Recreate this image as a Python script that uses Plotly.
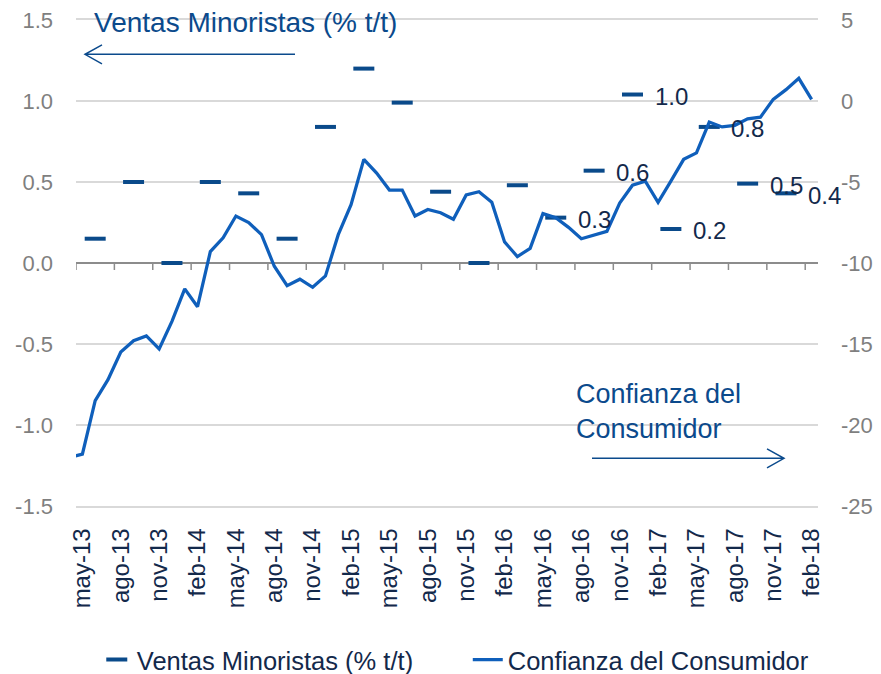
import plotly.graph_objects as go

# Monthly categories (first one, abr-13, lies just left of the plotted window)
months = ["abr-13", "may-13", "jun-13", "jul-13", "ago-13", "sep-13", "oct-13", "nov-13", "dic-13",
          "ene-14", "feb-14", "mar-14", "abr-14", "may-14", "jun-14", "jul-14", "ago-14", "sep-14",
          "oct-14", "nov-14", "dic-14", "ene-15", "feb-15", "mar-15", "abr-15", "may-15", "jun-15",
          "jul-15", "ago-15", "sep-15", "oct-15", "nov-15", "dic-15", "ene-16", "feb-16", "mar-16",
          "abr-16", "may-16", "jun-16", "jul-16", "ago-16", "sep-16", "oct-16", "nov-16", "dic-16",
          "ene-17", "feb-17", "mar-17", "abr-17", "may-17", "jun-17", "jul-17", "ago-17", "sep-17",
          "oct-17", "nov-17", "dic-17", "ene-18", "feb-18"]

confianza = [-22.0, -21.8, -18.5, -17.2, -15.5, -14.8, -14.5, -15.3, -13.6, -11.6, -12.7,
             -9.3, -8.45, -7.1, -7.5, -8.25, -10.2, -11.4, -11.0, -11.5, -10.8,
             -8.25, -6.4, -3.6, -4.45, -5.5, -5.5, -7.1, -6.7, -6.9, -7.3,
             -5.8, -5.6, -6.25, -8.7, -9.6, -9.1, -6.95, -7.2, -7.8, -8.5,
             -8.25, -8.05, -6.3, -5.2, -4.95, -6.25, -4.95, -3.6, -3.2, -1.3,
             -1.6, -1.5, -1.1, -1.0, 0.1, 0.7, 1.4, 0.1]

ventas_months = ["jun-13", "sep-13", "dic-13", "mar-14", "jun-14", "sep-14", "dic-14", "mar-15",
                 "jun-15", "sep-15", "dic-15", "mar-16", "jun-16", "sep-16", "dic-16", "mar-17",
                 "jun-17", "sep-17", "dic-17"]
ventas = [0.15, 0.50, 0.0, 0.50, 0.43, 0.15, 0.84, 1.20, 0.99, 0.44, 0.0, 0.48,
          0.28, 0.57, 1.04, 0.21, 0.84, 0.49, 0.43]
n_labelled = 7  # last quarters carry a data label

tick_labels = months[1::3]
left_ticks = [-1.5, -1.0, -0.5, 0.0, 0.5, 1.0, 1.5]
right_ticks = [-25, -20, -15, -10, -5, 0, 5]

# positions: index 0 = may-13
x_conf = [i - 1 for i in range(len(months))]
x_vent = [months.index(m) - 1 for m in ventas_months]
tick_pos = [i - 1 for i in range(1, len(months), 3)]
boundary_ticks = [p - 0.5 for p in tick_pos]

FONT = "Liberation Sans, Arial, sans-serif"
NAVY = "#13294b"
BLUE_TXT = "#0b4a8c"
LINE_BLUE = "#0f5fbb"
MARK = "#0a4a8a"
GRAY = "#7f7f7f"
GRID = "#d9d9d9"
AXIS_GRAY = "#8c8c8c"
XR = [-0.5, 57.5]

fig = go.Figure()
fig.add_trace(go.Scatter(
    x=x_vent, y=ventas, mode="markers", name="Ventas Minoristas (% t/t)",
    marker=dict(symbol="line-ew", size=15, color=MARK, line=dict(color=MARK, width=4)),
    xaxis="x", yaxis="y"))
fig.add_trace(go.Scatter(
    x=x_conf, y=confianza, mode="lines", name="Confianza del Consumidor",
    line=dict(color=LINE_BLUE, width=3.25), xaxis="x", yaxis="y2"))

# pixel helpers for decorations (plot area 76..818 x 20..506 on screen)
def dx(px):
    return (px - 76) / (742 / 58) - 0.5

def dy(py):
    return 1.5 - (py - 20) / (486 / 3)

shapes = []
# category tick marks hanging from the zero line
for b in boundary_ticks:
    shapes.append(dict(type="line", xref="x", yref="y", x0=b, x1=b,
                       ysizemode="pixel", yanchor=0, y0=0, y1=-7,
                       line=dict(color=AXIS_GRAY, width=1.5), layer="below"))
# arrows
for (x0, x1, y, head_at_left) in [(295, 85, 54.3, True), (592, 784, 458.3, False)]:
    tip = x1
    back = tip + 17 if head_at_left else tip - 17
    path = (f"M {dx(x0)},{dy(y)} L {dx(tip)},{dy(y)} "
            f"M {dx(back)},{dy(y - 9.5)} L {dx(tip)},{dy(y)} L {dx(back)},{dy(y + 9.5)}")
    shapes.append(dict(type="path", path=path, xref="x", yref="y",
                       line=dict(color=BLUE_TXT, width=1.5)))

annotations = [
    dict(x=dx(92), y=dy(22), xref="x", yref="y", text="Ventas Minoristas (% t/t)",
         showarrow=False, xanchor="left", yanchor="middle",
         font=dict(family=FONT, size=28, color=BLUE_TXT)),
    dict(x=dx(574), y=dy(377), xref="x", yref="y", text="Confianza del<br>Consumidor",
         showarrow=False, xanchor="left", yanchor="top", align="left",
         font=dict(family=FONT, size=27, color=BLUE_TXT)),
]
for k in range(len(ventas) - n_labelled, len(ventas)):
    annotations.append(dict(x=x_vent[k], y=ventas[k], xref="x", yref="y",
                            text=f"{ventas[k]:.1f}", showarrow=False,
                            xanchor="left", yanchor="middle", xshift=20, yshift=-2,
                            font=dict(family=FONT, size=24, color=NAVY)))

fig.update_layout(
    template="none",
    width=873, height=666,
    margin=dict(l=68, r=63, t=12, b=168),
    paper_bgcolor="white", plot_bgcolor="white",
    font=dict(family=FONT, color=NAVY),
    showlegend=True,
    legend=dict(orientation="h", x=0.528, xanchor="center", xref="paper",
                yref="container", y=0.021, yanchor="middle",
                entrywidth=326, entrywidthmode="pixels",
                font=dict(family=FONT, size=25.5, color=NAVY),
                bgcolor="rgba(0,0,0,0)"),
    xaxis=dict(range=XR, tickmode="array", tickvals=tick_pos, ticktext=tick_labels,
               tickangle=-90, ticks="", showgrid=False, zeroline=False,
               showline=True, linecolor=GRID, linewidth=1.5, mirror=True,
               automargin=False, ticklabeloverflow="allow",
               tickfont=dict(family=FONT, size=24, color=NAVY), ticklabelstandoff=11),
    yaxis=dict(range=[-1.5, 1.5], tickmode="array", tickvals=left_ticks,
               ticktext=[f"{v:.1f}" for v in left_ticks],
               showgrid=True, gridcolor=GRID, gridwidth=1.5,
               zeroline=True, zerolinecolor=AXIS_GRAY, zerolinewidth=1.5,
               showline=False, ticks="", automargin=False, ticklabeloverflow="allow",
               tickfont=dict(family=FONT, size=22, color=GRAY), ticklabelstandoff=22),
    yaxis2=dict(range=[-25, 5], tickmode="array", tickvals=right_ticks,
                ticktext=[str(v) for v in right_ticks],
                overlaying="y", side="right", anchor="x", showgrid=False, zeroline=False,
                showline=False, ticks="", automargin=False, ticklabeloverflow="allow",
                tickfont=dict(family=FONT, size=22, color=GRAY), ticklabelstandoff=22),
    shapes=shapes, annotations=annotations,
)

fig.write_html("out.html")
